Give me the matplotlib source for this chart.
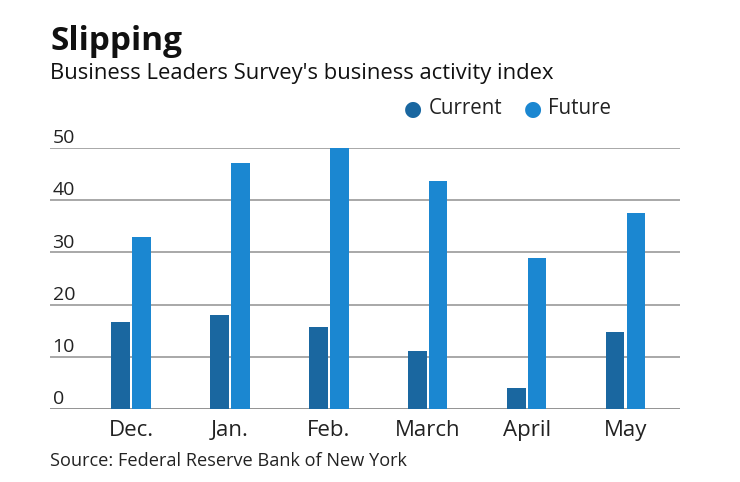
import numpy as np
from matplotlib import pyplot as plt

plt.rcParams['font.family'] = ['Open Sans', 'DejaVu Sans']

# data
months = ["Dec.", "Jan.", "Feb.", "March", "April", "May"]
current = [16.6, 18.0, 15.8, 11.1, 4.0, 14.8]
future = [33.0, 47.1, 50.0, 43.7, 29.0, 37.5]
yticks = [0, 10, 20, 30, 40, 50]

c_current = "#1a67a0"
c_future = "#1b87d1"

fig = plt.figure(figsize=(7.40, 4.82), dpi=100)
ax = fig.add_axes([50/740, 1 - 409/482, 630/740, (409 - 148)/482])

x = np.arange(len(months))
w = 0.187
ax.bar(x - 0.105, current, width=w, color=c_current, zorder=3)
ax.bar(x + 0.105, future, width=w, color=c_future, zorder=3)

ax.set_xlim(-0.82, 5.55)
ax.set_ylim(0, 50)
for v in yticks:
    ax.axhline(v, color="#9a9a9a" if v else "#808080", lw=1.2, zorder=1)
    ax.text(0.004, v + 0.15, str(v), transform=ax.get_yaxis_transform(),
            ha="left", va="bottom", fontsize=14, color="#222222")

ax.set_yticks([])
ax.set_xticks(x)
ax.set_xticklabels(months, fontsize=16, color="#222222")
ax.tick_params(axis="x", length=0, pad=8)
for s in ax.spines.values():
    s.set_visible(False)
ax.set_facecolor("none")

fig.text(50/740, 1 - 42/482, "Slipping", fontsize=24, fontweight="bold",
         ha="left", va="center", color="#111111")
fig.text(50/740, 1 - 74/482, "Business Leaders Survey's business activity index",
         fontsize=15.8, ha="left", va="center", color="#111111")

# legend
fig.text(413/740, 1 - 109/482, "\u25cf", fontsize=15, color=c_current, ha="center", va="center")
fig.text(429/740, 1 - 109/482, "Current", fontsize=14.8, ha="left", va="center", color="#222222")
fig.text(533/740, 1 - 109/482, "\u25cf", fontsize=15, color=c_future, ha="center", va="center")
fig.text(548/740, 1 - 109/482, "Future", fontsize=14.8, ha="left", va="center", color="#222222")

fig.text(50/740, 1 - 461/482, "Source: Federal Reserve Bank of New York",
         fontsize=13.1, ha="left", va="center", color="#222222")

plt.savefig("out.png", dpi=100)
